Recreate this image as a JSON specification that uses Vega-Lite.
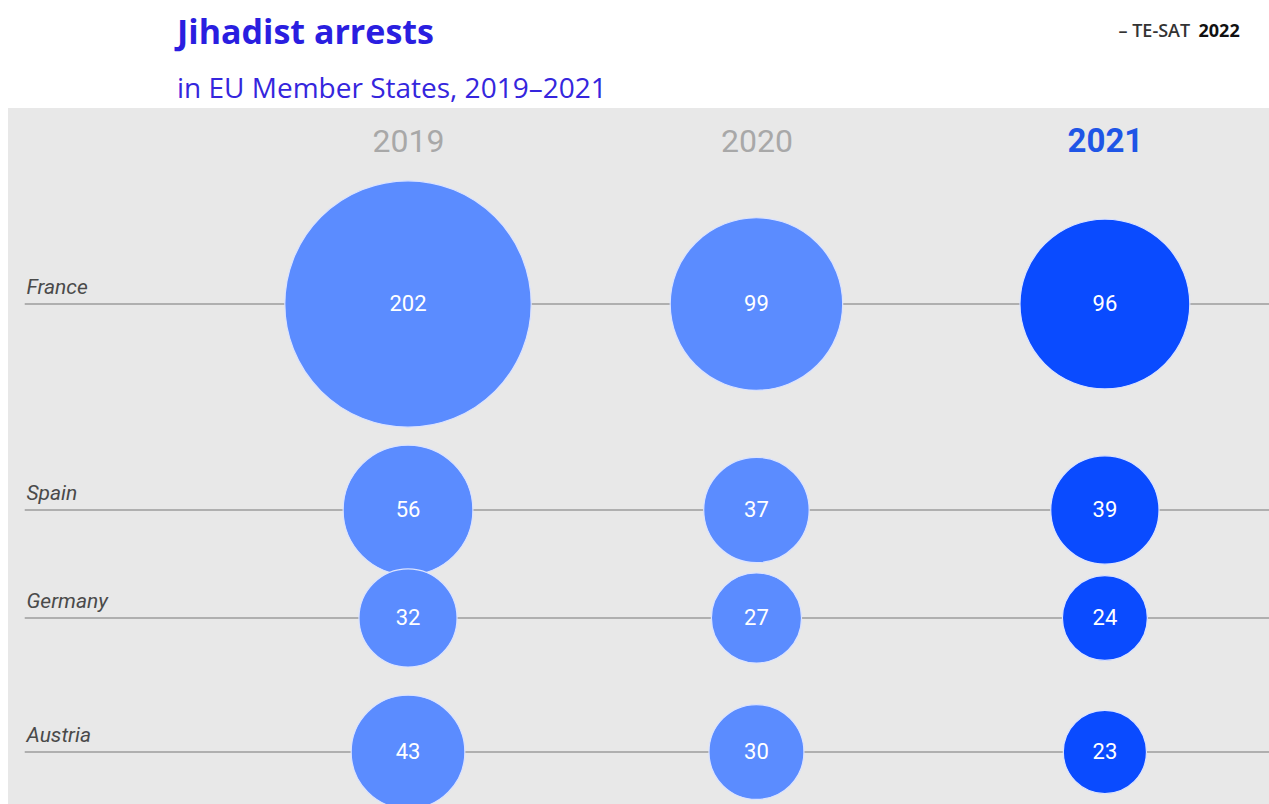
{
  "$schema": "https://vega.github.io/schema/vega-lite/v6.json",
  "width": 1261,
  "height": 696,
  "autosize": {"type": "none"},
  "padding": {"left": 8, "top": 108, "right": 0, "bottom": 0},
  "background": "white",
  "title": {
    "text": "Jihadist arrests",
    "subtitle": "in EU Member States, 2019–2021",
    "anchor": "start",
    "frame": "group",
    "dx": 169,
    "offset": -82,
    "font": "Open Sans",
    "fontSize": 34,
    "fontWeight": "bold",
    "color": "#2a1ee0",
    "subtitleFont": "Open Sans",
    "subtitleFontSize": 28,
    "subtitleColor": "#3526dd",
    "subtitlePadding": 25
  },
  "data": {
    "values": [
      {"country": "France", "year": 2019, "arrests": 202},
      {"country": "France", "year": 2020, "arrests": 99},
      {"country": "France", "year": 2021, "arrests": 96},
      {"country": "Spain", "year": 2019, "arrests": 56},
      {"country": "Spain", "year": 2020, "arrests": 37},
      {"country": "Spain", "year": 2021, "arrests": 39},
      {"country": "Germany", "year": 2019, "arrests": 32},
      {"country": "Germany", "year": 2020, "arrests": 27},
      {"country": "Germany", "year": 2021, "arrests": 24},
      {"country": "Austria", "year": 2019, "arrests": 43},
      {"country": "Austria", "year": 2020, "arrests": 30},
      {"country": "Austria", "year": 2021, "arrests": 23}
    ]
  },
  "transform": [
    {
      "window": [{"op": "first_value", "field": "arrests", "as": "latest"}],
      "groupby": ["country"],
      "sort": [{"field": "year", "order": "descending"}],
      "frame": [null, null]
    },
    {
      "window": [{"op": "dense_rank", "as": "rank"}],
      "sort": [{"field": "latest", "order": "descending"}]
    }
  ],
  "layer": [
    {
      "transform": [{"filter": "datum.year == 2019"}],
      "mark": {"type": "rule", "color": "#9d9d9d", "strokeWidth": 1.5},
      "encoding": {
        "x": {"datum": 2017.9, "type": "quantitative"},
        "x2": {"datum": 2021.471},
        "y": {"field": "rank", "type": "quantitative"}
      }
    },
    {
      "mark": {"type": "circle", "opacity": 1, "stroke": "#dbe3ff", "strokeWidth": 1.2},
      "encoding": {
        "x": {
          "field": "year",
          "type": "quantitative",
          "scale": {"domain": [2017.852, 2021.471], "nice": false, "zero": false},
          "axis": {
            "orient": "top",
            "values": [2019, 2020, 2021],
            "format": "d",
            "ticks": false,
            "tickSize": 0,
            "domain": false,
            "grid": false,
            "labelPadding": -50,
            "labelFont": "Roboto",
            "labelFontSize": {"condition": {"test": "datum.value == 2021", "value": 33}, "value": 32},
            "labelColor": {"condition": {"test": "datum.value == 2021", "value": "#1f55e6"}, "value": "#a8a8a8"},
            "labelFontWeight": {"condition": {"test": "datum.value == 2021", "value": "bold"}, "value": "normal"},
            "title": "– TE-SAT",
            "titleX": 1110,
            "titleY": -72,
            "titleAlign": "left",
            "titleAnchor": null,
            "titleBaseline": "alphabetic",
            "titleFont": "Open Sans",
            "titleFontSize": 18,
            "titleFontWeight": 600,
            "titleColor": "#333333"
          }
        },
        "y": {
          "field": "rank",
          "type": "quantitative",
          "scale": {"domain": [1, 2, 3, 4], "range": [196, 402, 510, 644], "nice": false, "zero": false},
          "axis": {
            "labels": false,
            "ticks": false,
            "domain": false,
            "grid": false,
            "title": "2022",
            "titleAngle": 0,
            "titleX": 1190,
            "titleY": -72,
            "titleAlign": "left",
            "titleAnchor": null,
            "titleBaseline": "alphabetic",
            "titleFont": "Open Sans",
            "titleFontSize": 18,
            "titleFontWeight": "bold",
            "titleColor": "#111111"
          }
        },
        "size": {
          "field": "arrests",
          "type": "quantitative",
          "scale": {"domain": [0, 200], "range": [0, 60100]},
          "legend": null
        },
        "color": {
          "condition": {"test": "datum.year == 2021", "value": "#0a4bff"},
          "value": "#5b8cff"
        }
      }
    },
    {
      "mark": {"type": "text", "color": "white", "font": "Roboto", "fontSize": 22, "baseline": "middle", "align": "center"},
      "encoding": {
        "x": {"field": "year", "type": "quantitative"},
        "y": {"field": "rank", "type": "quantitative"},
        "text": {"field": "arrests", "type": "quantitative"}
      }
    },
    {
      "transform": [{"filter": "datum.year == 2019"}],
      "mark": {"type": "text", "color": "#4a4a4a", "font": "Roboto", "fontStyle": "italic", "fontSize": 21, "align": "left", "baseline": "alphabetic", "dy": -10},
      "encoding": {
        "x": {"datum": 2017.905, "type": "quantitative"},
        "y": {"field": "rank", "type": "quantitative"},
        "text": {"field": "country", "type": "nominal"}
      }
    }
  ],
  "config": {
    "view": {"stroke": null, "fill": "#e8e8e8"}
  }
}
